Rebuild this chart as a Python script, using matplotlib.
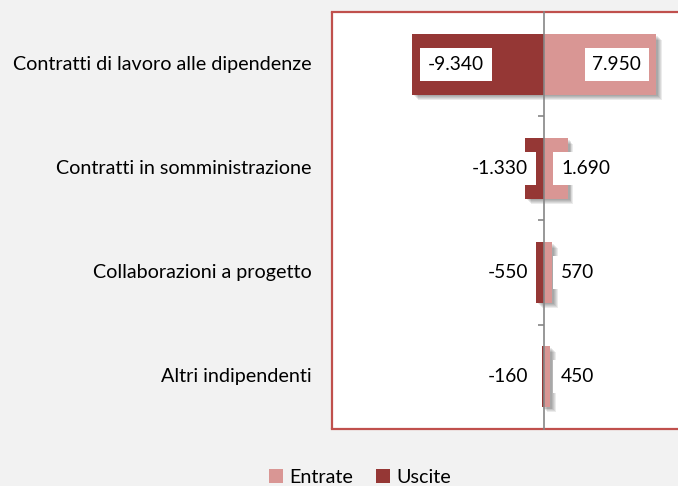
import matplotlib
matplotlib.use("Agg")
import matplotlib.pyplot as plt
import matplotlib.patheffects as pe
from matplotlib.transforms import blended_transform_factory
from matplotlib.patches import Rectangle, Patch

categories = ["Contratti di lavoro alle dipendenze", "Contratti in somministrazione",
              "Collaborazioni a progetto", "Altri indipendenti"]
entrate = [7950, 1690, 570, 450]
uscite = [-9340, -1330, -550, -160]
series_names = ["Entrate", "Uscite"]

C_LIGHT = "#D99694"
C_DARK = "#953735"
C_BORDER = "#C0504D"
C_BG = "#F2F2F2"
FONT = "Lato"
FS_CAT = 14.2
FS_NUM = 13.8
FS_LEG = 14.2

plt.rcParams["font.family"] = [FONT, "DejaVu Sans"]

W, H = 678, 486
fig = plt.figure(figsize=(W / 100, H / 100), dpi=100, facecolor=C_BG)
ax_left, ax_top, ax_bot = 332 / W, 1 - 12.3 / H, 1 - 428.7 / H
ax_w = 424 / W
ax = fig.add_axes([ax_left, ax_bot, ax_w, ax_top - ax_bot])
ax.set_facecolor("white")

y = list(range(len(categories)))
shadow = [pe.SimplePatchShadow(offset=(o, -o), shadow_rgbFace="black", alpha=0.08)
          for o in (1.2, 1.9, 2.6, 3.3, 4.0)] + [pe.Normal()]

bars_out = ax.barh(y, uscite, height=0.58, color=C_DARK, label=series_names[1], zorder=2)
bars_in = ax.barh(y, entrate, height=0.58, color=C_LIGHT, label=series_names[0], zorder=2)
for b in list(bars_out) + list(bars_in):
    b.set_path_effects(shadow)

ax.set_xlim(-15000, 15000)
ax.set_ylim(len(categories) - 0.5, -0.5)

# spines: left spine is the central axis at x=0
for s in ("top", "right", "bottom"):
    ax.spines[s].set_color(C_BORDER)
    ax.spines[s].set_linewidth(1.6)
ax.spines["left"].set_position(("data", 0))
ax.spines["left"].set_color("#868686")
ax.spines["left"].set_linewidth(1.2)
ax.spines["left"].set_zorder(3)
ax.add_patch(Rectangle((0, 0), 0, 1, transform=ax.transAxes, fill=False,
                       edgecolor=C_BORDER, linewidth=1.6, clip_on=False, zorder=4))
ax.set_xticks([])
ax.set_yticks([])
ax.set_yticks([i - 0.5 for i in range(len(categories) + 1)], minor=True)
ax.tick_params(axis="y", which="minor", length=4.5, width=1.2, color="#868686", direction="out")

# category labels at the left, outside plot area
tr = blended_transform_factory(ax.transAxes, ax.transData)
for i, c in enumerate(categories):
    ax.annotate(c, xy=(0, i), xycoords=tr, xytext=(-20, 0), textcoords="offset pixels",
                ha="right", va="center", fontsize=FS_CAT, color="black")

def fmt(v):
    return f"{v:,}".replace(",", ".")

box = dict(boxstyle="square,pad=0.4", facecolor="white", edgecolor="none")
for i, (e, u) in enumerate(zip(entrate, uscite)):
    if abs(u) >= 5000:
        ax.annotate(fmt(u), xy=(u, i), xytext=(16, 0), textcoords="offset pixels",
                    ha="left", va="center", fontsize=FS_NUM, bbox=box, zorder=5)
    else:
        ax.annotate(fmt(u), xy=(0, i), xytext=(-16, 0), textcoords="offset pixels",
                    ha="right", va="center", fontsize=FS_NUM, bbox=box, zorder=5)
    if abs(e) >= 5000:
        ax.annotate(fmt(e), xy=(e, i), xytext=(-15, 0), textcoords="offset pixels",
                    ha="right", va="center", fontsize=FS_NUM, bbox=box, zorder=5)
    else:
        ax.annotate(fmt(e), xy=(0, i), xytext=(17, 0), textcoords="offset pixels",
                    ha="left", va="center", fontsize=FS_NUM, bbox=box, zorder=5)

handles = [Patch(facecolor=C_LIGHT, edgecolor="none"), Patch(facecolor=C_DARK, edgecolor="none")]
fig.legend(handles=handles, labels=series_names, loc="center",
           bbox_to_anchor=(360 / W, 1 - 477 / H), ncol=2, frameon=False,
           fontsize=FS_LEG, handlelength=0.7, handleheight=0.7, handletextpad=0.3,
           columnspacing=1.2)

fig.savefig("out.png", dpi=100, facecolor=C_BG)
